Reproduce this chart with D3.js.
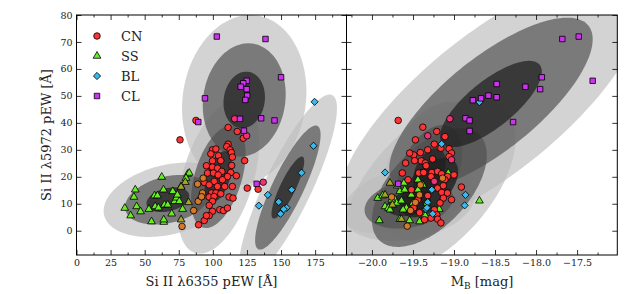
<!DOCTYPE html>
<html>
<head>
<meta charset="utf-8">
<script src="https://cdn.jsdelivr.net/npm/d3@7"></script>
<style>
  body { margin: 0; background: #fff; }
  text { font-family: "DejaVu Serif", serif; }
</style>
</head>
<body>
<div id="chart"></div>
<script>
// ---- data: [pEW6355, pEW5972] on the left, [M_B, pEW5972] on the right ----
const cnLeft = [[75.9,33.7],[87.6,40.9],[111.2,38.3],[117.9,36.8],[122.3,34.3],[111.2,32.1],[110.2,31.2],
  [112.6,30.0],[113.6,29.0],[114.3,27.3],[99.7,30.0],[102.2,30.3],[98.5,28.5],[104.1,27.8],[105.8,26.0],
  [99.7,25.9],[123.3,26.0],[95.3,24.1],[99.7,23.6],[103.4,23.2],[113.8,24.2],[106.6,22.0],[96.1,21.4],
  [100.4,21.4],[103.9,20.7],[113.1,21.6],[117.2,20.4],[110.7,20.1],[107.0,18.9],[101.0,18.3],[93.7,17.9],
  [97.3,17.0],[103.4,16.4],[108.7,16.4],[114.3,16.4],[99.0,14.0],[102.2,14.0],[105.8,13.7],[97.3,12.5],
  [100.9,12.7],[111.9,12.5],[114.8,12.1],[99.7,10.9],[97.3,9.4],[105.1,7.8],[99.7,7.2],[107.7,7.5],
  [110.7,8.4],[97.3,5.6],[93.7,3.8],[89.5,2.2],[125.2,15.8],[133.2,15.4],[95.3,5.6]];
const ssLeft = [[35.4,8.4],[39.7,5.6],[43.1,15.2],[42.1,12.5],[44.1,9.0],[47.0,7.1],[53.1,8.0],[55.0,3.4],
  [57.2,13.0],[57.7,9.0],[59.4,13.0],[63.8,15.2],[62.5,19.9],[64.5,9.6],[66.9,9.6],[64.0,3.2],[64.0,4.1],
  [69.8,6.3],[70.6,14.6],[72.0,10.9],[73.3,12.2],[75.4,10.9],[77.8,8.0],[76.7,16.4],[81.5,21.0],[82.7,21.4],
  [80.3,19.5],[60.1,8.5],[74.0,13.3]];
const blLeft = [[174.6,47.8],[173.8,31.5],[165.0,21.5],[157.8,15.2],[148.3,10.7],[154.1,8.5],[152.0,8.0],
  [149.6,6.3],[140.3,13.3],[133.7,9.3]];
const clLeft = [[102.9,72.0],[138.6,71.1],[150.0,56.9],[124.8,55.6],[122.3,54.7],[120.4,53.4],[124.8,52.5],
  [125.2,50.1],[94.2,49.1],[123.8,48.5],[135.4,41.7],[145.2,40.9],[119.9,41.5],[122.8,37.1],[89.3,40.3],
  [132.1,17.4]];
const cnssLeft = [[88.8,17.3],[92.9,19.5],[89.3,10.9],[85.9,7.5],[77.4,1.6],[92.4,14.0],[91.7,12.6]];
const sscnLeft = [[79.8,18.0],[76.7,16.2],[82.2,10.5],[76.7,4.1],[91.3,12.7]];
const cnclLeft = [[116.0,41.5],[124.8,35.2],[136.9,18.0]];

const cnRight = [[-19.68,40.9],[-19.38,38.4],[-19.21,36.8],[-19.11,34.9],[-19.47,33.7],[-19.24,32.1],
  [-19.16,30.6],[-19.06,30.4],[-19.03,28.8],[-19.06,27.5],[-19.32,30.0],[-19.41,29.0],[-19.49,28.1],
  [-19.54,28.8],[-19.40,25.9],[-19.48,26.0],[-19.59,25.1],[-19.35,25.1],[-19.26,26.6],[-19.34,24.1],
  [-19.63,21.4],[-19.43,21.4],[-19.37,21.6],[-19.27,21.6],[-19.20,22.0],[-19.15,21.1],[-19.08,20.1],
  [-19.00,20.7],[-19.28,20.1],[-19.11,18.9],[-19.20,15.8],[-19.15,14.2],[-19.08,14.0],[-18.91,16.2],
  [-19.13,12.1],[-19.17,10.3],[-19.24,7.8],[-19.21,5.9],[-19.28,4.7],[-19.20,4.3],[-19.16,2.9],
  [-19.36,4.1],[-19.49,8.5],[-19.42,6.7],[-19.52,15.2],[-19.44,11.5],[-19.56,18.9],[-19.32,13.0],
  [-19.03,11.5],[-19.13,16.7]];
const ssRight = [[-19.91,3.8],[-19.93,12.1],[-19.87,13.0],[-19.84,9.0],[-19.80,8.4],[-19.72,11.7],
  [-19.70,10.3],[-19.66,14.6],[-19.61,17.7],[-19.60,15.2],[-19.54,3.8],[-19.42,3.4],[-19.44,15.2],
  [-19.44,18.9],[-19.38,17.0],[-19.33,10.3],[-19.36,5.9],[-19.18,8.0],[-19.07,21.4],[-18.69,11.1],
  [-19.58,8.4],[-19.64,11.1],[-19.50,10.3],[-19.62,7.8],[-19.35,5.6],[-19.66,4.3],[-19.76,11.5],
  [-19.78,7.8],[-19.52,13.3],[-19.69,16.7]];
const blRight = [[-18.69,47.7],[-19.15,32.2],[-19.84,21.6],[-19.27,15.2],[-18.86,13.3],[-19.32,10.6],
  [-18.87,9.4],[-19.34,8.0],[-19.33,8.5],[-19.26,6.3]];
const clRight = [[-17.48,72.0],[-17.68,71.1],[-17.93,56.9],[-17.31,55.6],[-18.48,54.4],[-18.13,53.4],
  [-17.95,52.5],[-18.58,50.1],[-18.48,49.5],[-18.67,49.1],[-18.77,48.4],[-18.86,41.7],[-18.81,40.9],
  [-18.28,40.3],[-18.81,37.0],[-19.68,17.4]];
const cnssRight = [[-19.14,19.5],[-19.41,17.0],[-19.47,10.5],[-19.53,7.5],[-19.57,1.7],[-19.76,12.5],[-19.42,13.3]];
const sscnRight = [[-19.78,17.7],[-19.84,13.3],[-19.64,4.3],[-19.44,12.2],[-19.75,9.6]];
const cnclRight = [[-19.05,41.5],[-19.32,35.2],[-19.24,18.3],[-19.03,26.3]];

// gaussian components: centre, sigmas, correlation  (order CN, SS, BL, CL)
const ellLeft = [
  { cx: 104, cy: 20, sx: 10, sy: 9.5, r: 0.45 },
  { cx: 67, cy: 11.5, sx: 15.7, sy: 4.6, r: 0.3 },
  { cx: 155, cy: 16, sx: 12, sy: 11.5, r: 0.85 },
  { cx: 123, cy: 48.5, sx: 15.2, sy: 10.5, r: 0.1 }
];
const ellRight = [
  { cx: -19.3, cy: 22, sx: 0.2, sy: 8.6, r: 0.4 },
  { cx: -19.55, cy: 10, sx: 0.27, sy: 4.6, r: 0.25 },
  { cx: -19.3, cy: 16, sx: 0.35, sy: 11, r: 0.55 },
  { cx: -18.55, cy: 47, sx: 0.62, sy: 16, r: 0.75 }
];
const levels = [3, 2, 1];

const legendLabels = ["CN", "SS", "BL", "CL"];
const xTicksLeft = [0, 25, 50, 75, 100, 125, 150, 175];
const xTicksRight = [-20.0, -19.5, -19.0, -18.5, -18.0, -17.5];
const yTicks = [0, 10, 20, 30, 40, 50, 60, 70, 80];

// ---- layout ----
const width = 637, height = 294;
const plotTop = 15, plotBottom = 255;
const y = d3.scaleLinear().domain([-9, 80]).range([plotBottom, plotTop]);
const xL = d3.scaleLinear().domain([0, 198]).range([76.5, 346.5]);
const xR = d3.scaleLinear().domain([-20.31, -17.01]).range([346.5, 617.3]);

const svg = d3.select("#chart").append("svg")
  .attr("width", width).attr("height", height);

const levelFill = { 3: ["#bebebe", 0.68], 2: ["#505050", 0.68], 1: ["#1e1e1e", 0.7] };

function ellipsePoints(e, k, xs) {
  const pts = [];
  const q = Math.sqrt(1 - e.r * e.r);
  for (let i = 0; i < 160; i++) {
    const t = 2 * Math.PI * i / 160;
    const a = Math.cos(t), b = Math.sin(t);
    pts.push([xs(e.cx + k * e.sx * a), y(e.cy + k * e.sy * (e.r * a + q * b))]);
  }
  return pts;
}

const markerColor = { CN: "#ff3333", SS: "#66ee22", BL: "#33bbee", CL: "#cc33ee",
  CNSS: "#d4782c", SSCN: "#a3a824", CNCL: "#ec3474" };
const shape = { CN: "circle", SS: "triangle", BL: "diamond", CL: "square",
  CNSS: "circle", SSCN: "triangle", CNCL: "circle" };

function symbolPath(kind) {
  if (kind === "circle") return d3.symbol(d3.symbolCircle, 34)();
  if (kind === "triangle") return d3.symbol(d3.symbolTriangle, 26)();
  if (kind === "square") return d3.symbol(d3.symbolSquare, 30)();
  return d3.symbol(d3.symbolSquare, 26)(); // rotated below -> diamond
}

function drawPanel(name, xs, ells, sets, tickVals, minorVals, fmt) {
  const [x0, x1] = xs.range();
  const clipId = "clip-" + name;
  svg.append("clipPath").attr("id", clipId)
    .append("rect").attr("x", x0).attr("y", plotTop)
    .attr("width", x1 - x0).attr("height", plotBottom - plotTop);

  const g = svg.append("g").attr("clip-path", `url(#${clipId})`);
  const line = d3.line().curve(d3.curveLinearClosed);
  levels.forEach((k) => {
    g.selectAll(null).data(ells).join("path")
      .attr("d", (e) => line(ellipsePoints(e, k, xs)))
      .attr("fill", levelFill[k][0])
      .attr("fill-opacity", levelFill[k][1]);
  });

  sets.forEach(([key, pts]) => {
    g.selectAll(null).data(pts).join("path")
      .attr("d", symbolPath(shape[key]))
      .attr("transform", (d) => `translate(${xs(d[0])},${y(d[1])})` + (shape[key] === "diamond" ? " rotate(45)" : ""))
      .attr("fill", markerColor[key])
      .attr("stroke", "#000")
      .attr("stroke-width", 0.8);
  });

  // ticks (pointing inward on all four sides)
  const tick = (gen, tx, ty, vals, size, f) => {
    const a = svg.append("g").attr("transform", `translate(${tx},${ty})`)
      .call(gen.tickValues(vals).tickSizeInner(-size).tickSizeOuter(0).tickPadding(4).tickFormat(f));
    a.select(".domain").remove();
    a.selectAll(".tick line").attr("stroke", "#000").attr("stroke-width", 0.8);
    a.selectAll("text").attr("fill", "#222").style("font-size", "9.5px")
      .style("font-family", "'DejaVu Serif', serif");
    return a;
  };
  tick(d3.axisBottom(xs), 0, plotBottom, tickVals, 5, fmt);
  tick(d3.axisBottom(xs), 0, plotBottom, minorVals, 2.5, () => "");
  tick(d3.axisTop(xs), 0, plotTop, tickVals, 5, () => "");
  tick(d3.axisTop(xs), 0, plotTop, minorVals, 2.5, () => "");
  tick(d3.axisLeft(y), x0, 0, yTicks, 5, name === "left" ? d3.format("d") : () => "");
  tick(d3.axisRight(y), x1, 0, yTicks, 5, () => "");

  svg.append("rect").attr("x", x0).attr("y", plotTop)
    .attr("width", x1 - x0).attr("height", plotBottom - plotTop)
    .attr("fill", "none").attr("stroke", "#000").attr("stroke-width", 1);
}

drawPanel("left", xL, ellLeft,
  [["SS", ssLeft], ["SSCN", sscnLeft], ["CN", cnLeft], ["CNSS", cnssLeft], ["CNCL", cnclLeft], ["BL", blLeft], ["CL", clLeft]],
  xTicksLeft, d3.range(12.5, 198, 25), d3.format("d"));
drawPanel("right", xR, ellRight,
  [["SS", ssRight], ["SSCN", sscnRight], ["CN", cnRight], ["CNSS", cnssRight], ["CNCL", cnclRight], ["BL", blRight], ["CL", clRight]],
  xTicksRight, d3.range(-20.25, -17.0, 0.5), d3.format(".1f"));

// legend
const legend = svg.append("g");
legendLabels.forEach((lab, i) => {
  const ly = 36 + i * 20;
  legend.append("path")
    .attr("d", symbolPath(shape[lab]))
    .attr("transform", `translate(97,${ly})` + (shape[lab] === "diamond" ? " rotate(45)" : ""))
    .attr("fill", markerColor[lab]).attr("stroke", "#000").attr("stroke-width", 0.8);
  legend.append("text").attr("x", 121).attr("y", ly).attr("dy", "0.36em")
    .style("font-size", "13px").attr("fill", "#222").text(lab);
});

// axis labels
svg.append("text").attr("x", 211.5).attr("y", 286).attr("text-anchor", "middle")
  .style("font-size", "13px").attr("fill", "#222").text("Si II λ6355 pEW [Å]");
const mb = svg.append("text").attr("x", 482).attr("y", 286).attr("text-anchor", "middle")
  .style("font-size", "13px").attr("fill", "#222");
mb.append("tspan").text("M");
mb.append("tspan").attr("dy", 3).style("font-size", "9px").text("B");
mb.append("tspan").attr("dy", -3).text(" [mag]");
svg.append("text").attr("transform", "translate(51,135) rotate(-90)").attr("text-anchor", "middle")
  .style("font-size", "13px").attr("fill", "#222").text("Si II λ5972 pEW [Å]");
</script>
</body>
</html>
